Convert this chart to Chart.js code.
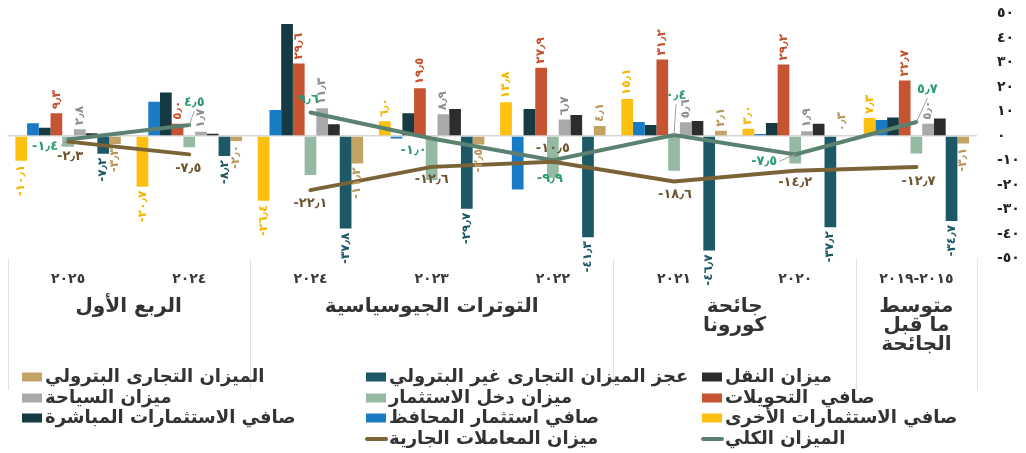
<!DOCTYPE html>
<html lang="ar">
<head>
<meta charset="utf-8">
<script src="https://cdn.jsdelivr.net/npm/chart.js@4.4.1/dist/chart.umd.min.js"></script>
<style>
  html, body { margin: 0; padding: 0; background: #ffffff; }
  #wrap { width: 1026px; height: 453px; position: relative; }
</style>
</head>
<body>
<div id="wrap"><canvas id="grafico"></canvas></div>
<script>
// categorias (de derecha a izquierda en el grafico)
const categorias = ['٢٠١٩\u200E-\u200E٢٠١٥', '٢٠٢٠', '٢٠٢١', '٢٠٢٢', '٢٠٢٣', '٢٠٢٤', '٢٠٢٤', '٢٠٢٥'];
const grupos = [
  { texto: ['متوسط', 'ما قبل', 'الجائحة'], desde: 0, hasta: 0 },
  { texto: ['جائحة', 'كورونا'], desde: 1, hasta: 2 },
  { texto: ['التوترات الجيوسياسية'], desde: 3, hasta: 5 },
  { texto: ['الربع الأول'], desde: 6, hasta: 7 }
];
const ticksY = [-50, -40, -30, -20, -10, 0, 10, 20, 30, 40, 50];

// series
const otrasInversiones   = [7.3, 3.0, 15.1, 13.8, 6.0, -26.4, -20.7, -10.1];
const carteraInversion   = [6.5, 0.8, 5.7, -21.8, -1.0, 10.6, 14.0, 5.2];
const inversionDirecta   = [7.6, 5.3, 4.5, 11.0, 9.3, 45.7, 17.8, 3.4];
const transferencias     = [22.7, 29.2, 31.2, 27.9, 19.5, 29.6, 5.0, 9.3];
const ingresoInversion   = [-7.1, -11.2, -14.2, -17.0, -18.0, -15.9, -4.6, -4.4];
const turismo            = [5.0, 1.9, 5.6, 6.7, 8.9, 11.3, 1.7, 2.8];
const transporte         = [7.1, 5.0, 6.1, 8.6, 11.0, 4.8, 0.9, 1.1];
const deficitNoPetrolero = [-34.7, -37.2, -46.7, -41.3, -29.7, -37.8, -8.2, -7.2];
const balanzaPetrolera   = [-3.1, 0.3, 2.1, 4.1, -3.5, -11.2, -2.0, -3.3];
const cuentaCorriente    = [-12.7, -14.2, -18.6, -10.5, -12.6, -22.1, -7.5, -2.3];
const balanzaGlobal      = [5.7, -7.5, 0.4, -9.9, -1.0, 9.6, 4.5, -1.4];

// posiciones de las etiquetas de las lineas (px respecto al punto)
const offsetGlobal    = [[11, -32], [-31, 7], [2, -39], [-3, 18], [-18, 12], [-2, -13], [5, -22], [-23, 7]];
const offsetCorriente = [[2, 15], [0, 12], [1, 13], [0, -13], [0, 13], [0, 13], [-1, 14], [2, 15]];

const FUENTE = "'DejaVu Sans', sans-serif";
const digitos = '٠١٢٣٤٥٦٧٨٩';
function aArabe(v, dec) {
  const s = dec ? Math.abs(v).toFixed(1) : String(Math.abs(v));
  const t = s.replace(/[0-9]/g, c => digitos[c]).replace('.', '٫');
  return (v < 0 ? '-' : '') + t;
}

function barra(clave, label, data, color, labelColor) {
  return {
    type: 'bar', clave, label, data,
    backgroundColor: color, borderWidth: 0,
    barPercentage: 1, categoryPercentage: 0.87,
    order: 2, labelColor
  };
}
function linea(clave, label, data, color, labelColor, offsets) {
  return {
    type: 'line', clave, label, data,
    borderColor: color, borderWidth: 4, pointRadius: 0, tension: 0, fill: false,
    borderCapStyle: 'round', order: 0, labelColor, offsets,
    segment: { borderColor: c => c.p0DataIndex === 5 ? 'rgba(0,0,0,0)' : undefined }
  };
}

const datasets = [
  barra('otras', 'صافي الاستثمارات الأخرى', otrasInversiones, '#fdc010', '#f5b700'),
  barra('cartera', 'صافي استثمار المحافظ', carteraInversion, '#1a7bc5', null),
  barra('directa', 'صافي الاستثمارات المباشرة', inversionDirecta, '#163a42', null),
  barra('transf', 'صافي  التحويلات', transferencias, '#c65331', '#c4522f'),
  barra('ingreso', 'ميزان دخل الاستثمار', ingresoInversion, '#95b9a3', null),
  barra('turismo', 'ميزان السياحة', turismo, '#a8a9ab', '#8e8e8e'),
  barra('transp', 'ميزان النقل', transporte, '#2f2d2c', null),
  barra('noPetro', 'عجز الميزان التجارى غير البترولي', deficitNoPetrolero, '#1d5866', '#1d5866'),
  barra('petro', 'الميزان التجارى البترولي', balanzaPetrolera, '#c3a266', '#b8975a'),
  linea('corriente', 'ميزان المعاملات الجارية', cuentaCorriente, '#7b6338', '#6e5430', offsetCorriente),
  linea('global', 'الميزان الكلي', balanzaGlobal, '#5b8170', '#2f9a6e', offsetGlobal)
];

const ordenLeyenda = ['transp', 'noPetro', 'petro', 'transf', 'ingreso', 'turismo', 'otras', 'cartera', 'directa', 'global', 'corriente'];

// etiquetas de valores
const etiquetasPlugin = {
  id: 'etiquetas',
  afterDatasetsDraw(chart) {
    const ctx = chart.ctx;
    ctx.save();
    ctx.direction = 'ltr';
    chart.data.datasets.forEach((ds, i) => {
      const meta = chart.getDatasetMeta(i);
      if (ds.type === 'bar' && ds.labelColor) {
        ctx.font = 'bold 12px ' + FUENTE;
        ctx.fillStyle = ds.labelColor;
        ctx.textBaseline = 'middle';
        meta.data.forEach((el, j) => {
          const v = ds.data[j];
          ctx.save();
          ctx.translate(el.x, v >= 0 ? el.y - 4 : el.y + 4);
          ctx.rotate(-Math.PI / 2);
          ctx.textAlign = v >= 0 ? 'left' : 'right';
          ctx.fillText(aArabe(v, true), 0, 0);
          ctx.restore();
        });
      }
      if (ds.type === 'line') {
        ctx.font = 'bold 13px ' + FUENTE;
        ctx.textAlign = 'center';
        ctx.textBaseline = 'middle';
        meta.data.forEach((el, j) => {
          const [dx, dy] = ds.offsets[j];
          const txt = aArabe(ds.data[j], true);
          const lx = el.x + dx, ly = el.y + dy;
          if (Math.abs(dx) > 20 || Math.abs(dy) > 20) {
            const w = ctx.measureText(txt).width;
            let ex, ey;
            if (Math.abs(dy) >= Math.abs(dx)) { ex = lx; ey = ly - Math.sign(dy) * 8; }
            else { ex = lx - Math.sign(dx) * (w / 2 + 2); ey = ly; }
            ctx.strokeStyle = '#a0a0a0';
            ctx.lineWidth = 1;
            ctx.beginPath();
            ctx.moveTo(el.x, el.y);
            ctx.lineTo(ex, ey);
            ctx.stroke();
          }
          ctx.fillStyle = ds.labelColor;
          ctx.fillText(txt, lx, ly);
        });
      }
    });
    ctx.restore();
  }
};

// separadores, grupos y leyenda
const marcoPlugin = {
  id: 'marco',
  afterDraw(chart) {
    const ctx = chart.ctx;
    const x = chart.scales.x;
    const area = chart.chartArea;
    const medio = (a, b) => (x.getPixelForValue(a) + x.getPixelForValue(b)) / 2;
    ctx.save();
    // lineas verticales de separacion
    const sep = [area.left, area.right, medio(0, 1), medio(2, 3), medio(5, 6)];
    ctx.strokeStyle = '#e3e3e3';
    ctx.lineWidth = 1;
    sep.forEach(px => {
      ctx.beginPath();
      ctx.moveTo(Math.round(px) + 0.5, area.bottom);
      ctx.lineTo(Math.round(px) + 0.5, 390);
      ctx.stroke();
    });
    // nombres de los grupos
    ctx.font = 'bold 20px ' + FUENTE;
    ctx.fillStyle = '#333333';
    ctx.textAlign = 'center';
    ctx.textBaseline = 'middle';
    ctx.direction = 'rtl';
    grupos.forEach(g => {
      const cx = (x.getPixelForValue(g.desde) + x.getPixelForValue(g.hasta)) / 2;
      g.texto.forEach((t, k) => ctx.fillText(t, cx, 307 + k * 19));
    });
    // leyenda
    const colX = [702, 366, 22];
    const filaY = [377, 398, 418, 439];
    ctx.font = 'bold 18px ' + FUENTE;
    ctx.textAlign = 'left';
    ordenLeyenda.forEach((clave, n) => {
      const ds = chart.data.datasets.find(d => d.clave === clave);
      const cx = colX[n % 3], cy = filaY[Math.floor(n / 3)];
      if (ds.type === 'bar') {
        ctx.fillStyle = ds.backgroundColor;
        ctx.fillRect(cx, cy - 4.5, 20, 9);
      } else {
        ctx.strokeStyle = ds.borderColor;
        ctx.lineWidth = 4;
        ctx.lineCap = 'round';
        ctx.beginPath();
        ctx.moveTo(cx + 1, cy);
        ctx.lineTo(cx + 20, cy);
        ctx.stroke();
      }
      ctx.fillStyle = '#333333';
      ctx.fillText(ds.label, cx + 23, cy);
    });
    ctx.restore();
  }
};

Chart.defaults.font.family = FUENTE;
Chart.defaults.font.weight = 'bold';

new Chart(document.getElementById('grafico'), {
  data: { labels: categorias, datasets },
  options: {
    responsive: true,
    maintainAspectRatio: false,
    animation: false,
    layout: { padding: { left: 7.5, top: 13.5, right: 0, bottom: 0 } },
    plugins: { legend: { display: false }, tooltip: { enabled: false } },
    scales: {
      x: {
        reverse: true,
        grid: { display: false, drawTicks: false },
        border: { display: false },
        ticks: { color: '#3a3a3a', font: { size: 14, weight: 'bold' }, padding: 12, maxRotation: 0, autoSkip: false },
        afterFit: s => { s.height = 194.5; }
      },
      y: {
        position: 'right',
        min: -50, max: 50,
        afterBuildTicks: s => { s.ticks = ticksY.map(v => ({ value: v })); },
        grid: {
          drawTicks: true,
          tickLength: 20,
          tickColor: 'rgba(0,0,0,0)',
          color: c => c.tick && c.tick.value === 0 ? '#d6d6d6' : 'rgba(0,0,0,0)',
          lineWidth: 1.5
        },
        border: { display: false },
        ticks: { color: '#222222', font: { size: 14, weight: 'bold' }, padding: 0, callback: v => aArabe(v, false) },
        afterFit: s => { s.width = 49; }
      }
    }
  },
  plugins: [etiquetasPlugin, marcoPlugin]
});
</script>
</body>
</html>
